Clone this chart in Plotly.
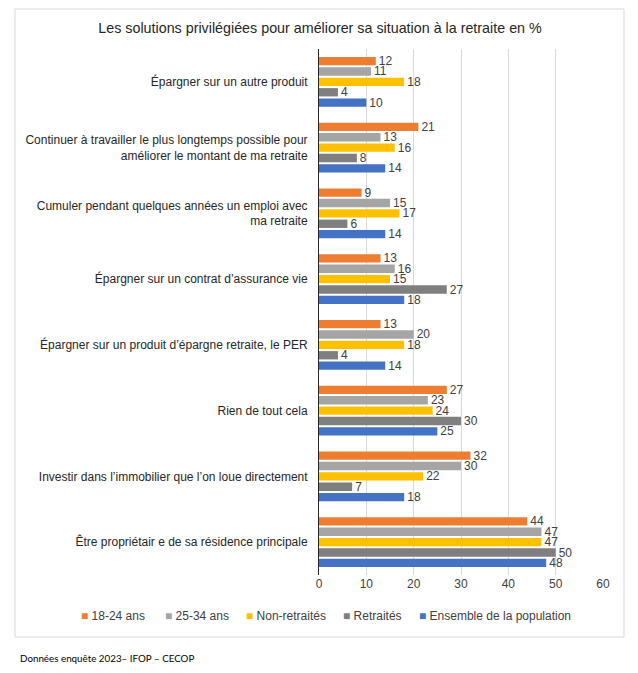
import plotly.graph_objects as go

categories = [
    "Épargner sur un autre produit",
    "Continuer à travailler le plus longtemps possible pour<br>améliorer le montant de ma retraite",
    "Cumuler pendant quelques années un emploi avec<br>ma retraite",
    "Épargner sur un contrat d’assurance vie",
    "Épargner sur un produit d’épargne retraite, le PER",
    "Rien de tout cela",
    "Investir dans l’immobilier que l’on loue directement",
    "Être propriétair e de sa résidence principale",
]

series_names = ["18-24 ans", "25-34 ans", "Non-retraités", "Retraités", "Ensemble de la population"]
v_18_24 = [12, 21, 9, 13, 13, 27, 32, 44]
v_25_34 = [11, 13, 15, 16, 20, 23, 30, 47]
v_non_retraites = [18, 16, 17, 15, 18, 24, 22, 47]
v_retraites = [4, 8, 6, 27, 4, 30, 7, 50]
v_ensemble = [10, 14, 14, 18, 14, 25, 18, 48]
colors = ["#ED7D31", "#A5A5A5", "#FFC000", "#7F7F7F", "#4472C4"]

all_values = [v_18_24, v_25_34, v_non_retraites, v_retraites, v_ensemble]

W, H = 638, 673
OFF = 8  # page body margin
PW, PH = 284, 526
ML, MT = 319 - OFF, 49 - OFF
MR = W - ML - PW
MB = H - MT - PH

def px_x(p):
    return (p - OFF - ML) / PW

def px_y(p):
    return (MT + PH - (p - OFF)) / PH

font_family = "Liberation Sans, Arial, sans-serif"

fig = go.Figure()
for name, vals, col in zip(series_names, all_values, colors):
    fig.add_trace(go.Bar(
        y=categories, x=vals, name=name, orientation="h",
        marker=dict(color=col, line=dict(width=0)),
        text=[str(v) for v in vals], textposition="outside",
        constraintext="none",
        textfont=dict(size=12, color="#404040", family=font_family),
        cliponaxis=False, showlegend=False,
    ))

fig.update_layout(
    width=W, height=H,
    margin=dict(l=ML, r=MR, t=MT, b=MB, autoexpand=False),
    paper_bgcolor="white", plot_bgcolor="white",
    barmode="group", bargap=0.21, bargroupgap=0.2,
    font=dict(family=font_family, size=12, color="#262626"),
    title=dict(text="Les solutions privilégiées pour améliorer sa situation à la retraite en %",
               x=(320 - OFF) / W, xref="container", xanchor="center",
               y=1 - (28 - OFF) / H, yref="container", yanchor="middle",
               font=dict(size=14.3, color="#262626", family=font_family)),
    xaxis=dict(range=[0, 60], dtick=10, showgrid=True, gridcolor="#D9D9D9", gridwidth=1,
               zeroline=False, showline=False, ticks="",
               tickfont=dict(size=12, color="#404040"), fixedrange=True),
    yaxis=dict(autorange="reversed", showline=True, linecolor="#262626", linewidth=1,
               ticks="", ticklabelstandoff=8, showgrid=False, automargin=False,
               tickfont=dict(size=12, color="#262626")),
    showlegend=False,
)

# legend drawn as text items with coloured square glyphs
legend_x_px = [79, 163, 244, 341, 417]
for name, col, lx in zip(series_names, colors, legend_x_px):
    fig.add_annotation(
        text=f"<span style='color:{col}'>■</span> {name}",
        xref="paper", yref="paper", x=px_x(lx), y=px_y(616),
        xanchor="left", yanchor="middle", showarrow=False,
        font=dict(size=12, color="#404040", family=font_family),
    )

fig.add_shape(type="rect", xref="paper", yref="paper",
              x0=px_x(15), x1=px_x(624), y0=px_y(637), y1=px_y(9),
              line=dict(color="#D9D9D9", width=1), fillcolor="rgba(0,0,0,0)", layer="below")

fig.add_annotation(text="Données enquête 2023– IFOP – CECOP", xref="paper", yref="paper",
                   x=px_x(18), y=px_y(658), xanchor="left", yanchor="middle", showarrow=False,
                   font=dict(size=9.8, color="#000000", family="Lato, sans-serif"))

fig.write_html("out.html")
